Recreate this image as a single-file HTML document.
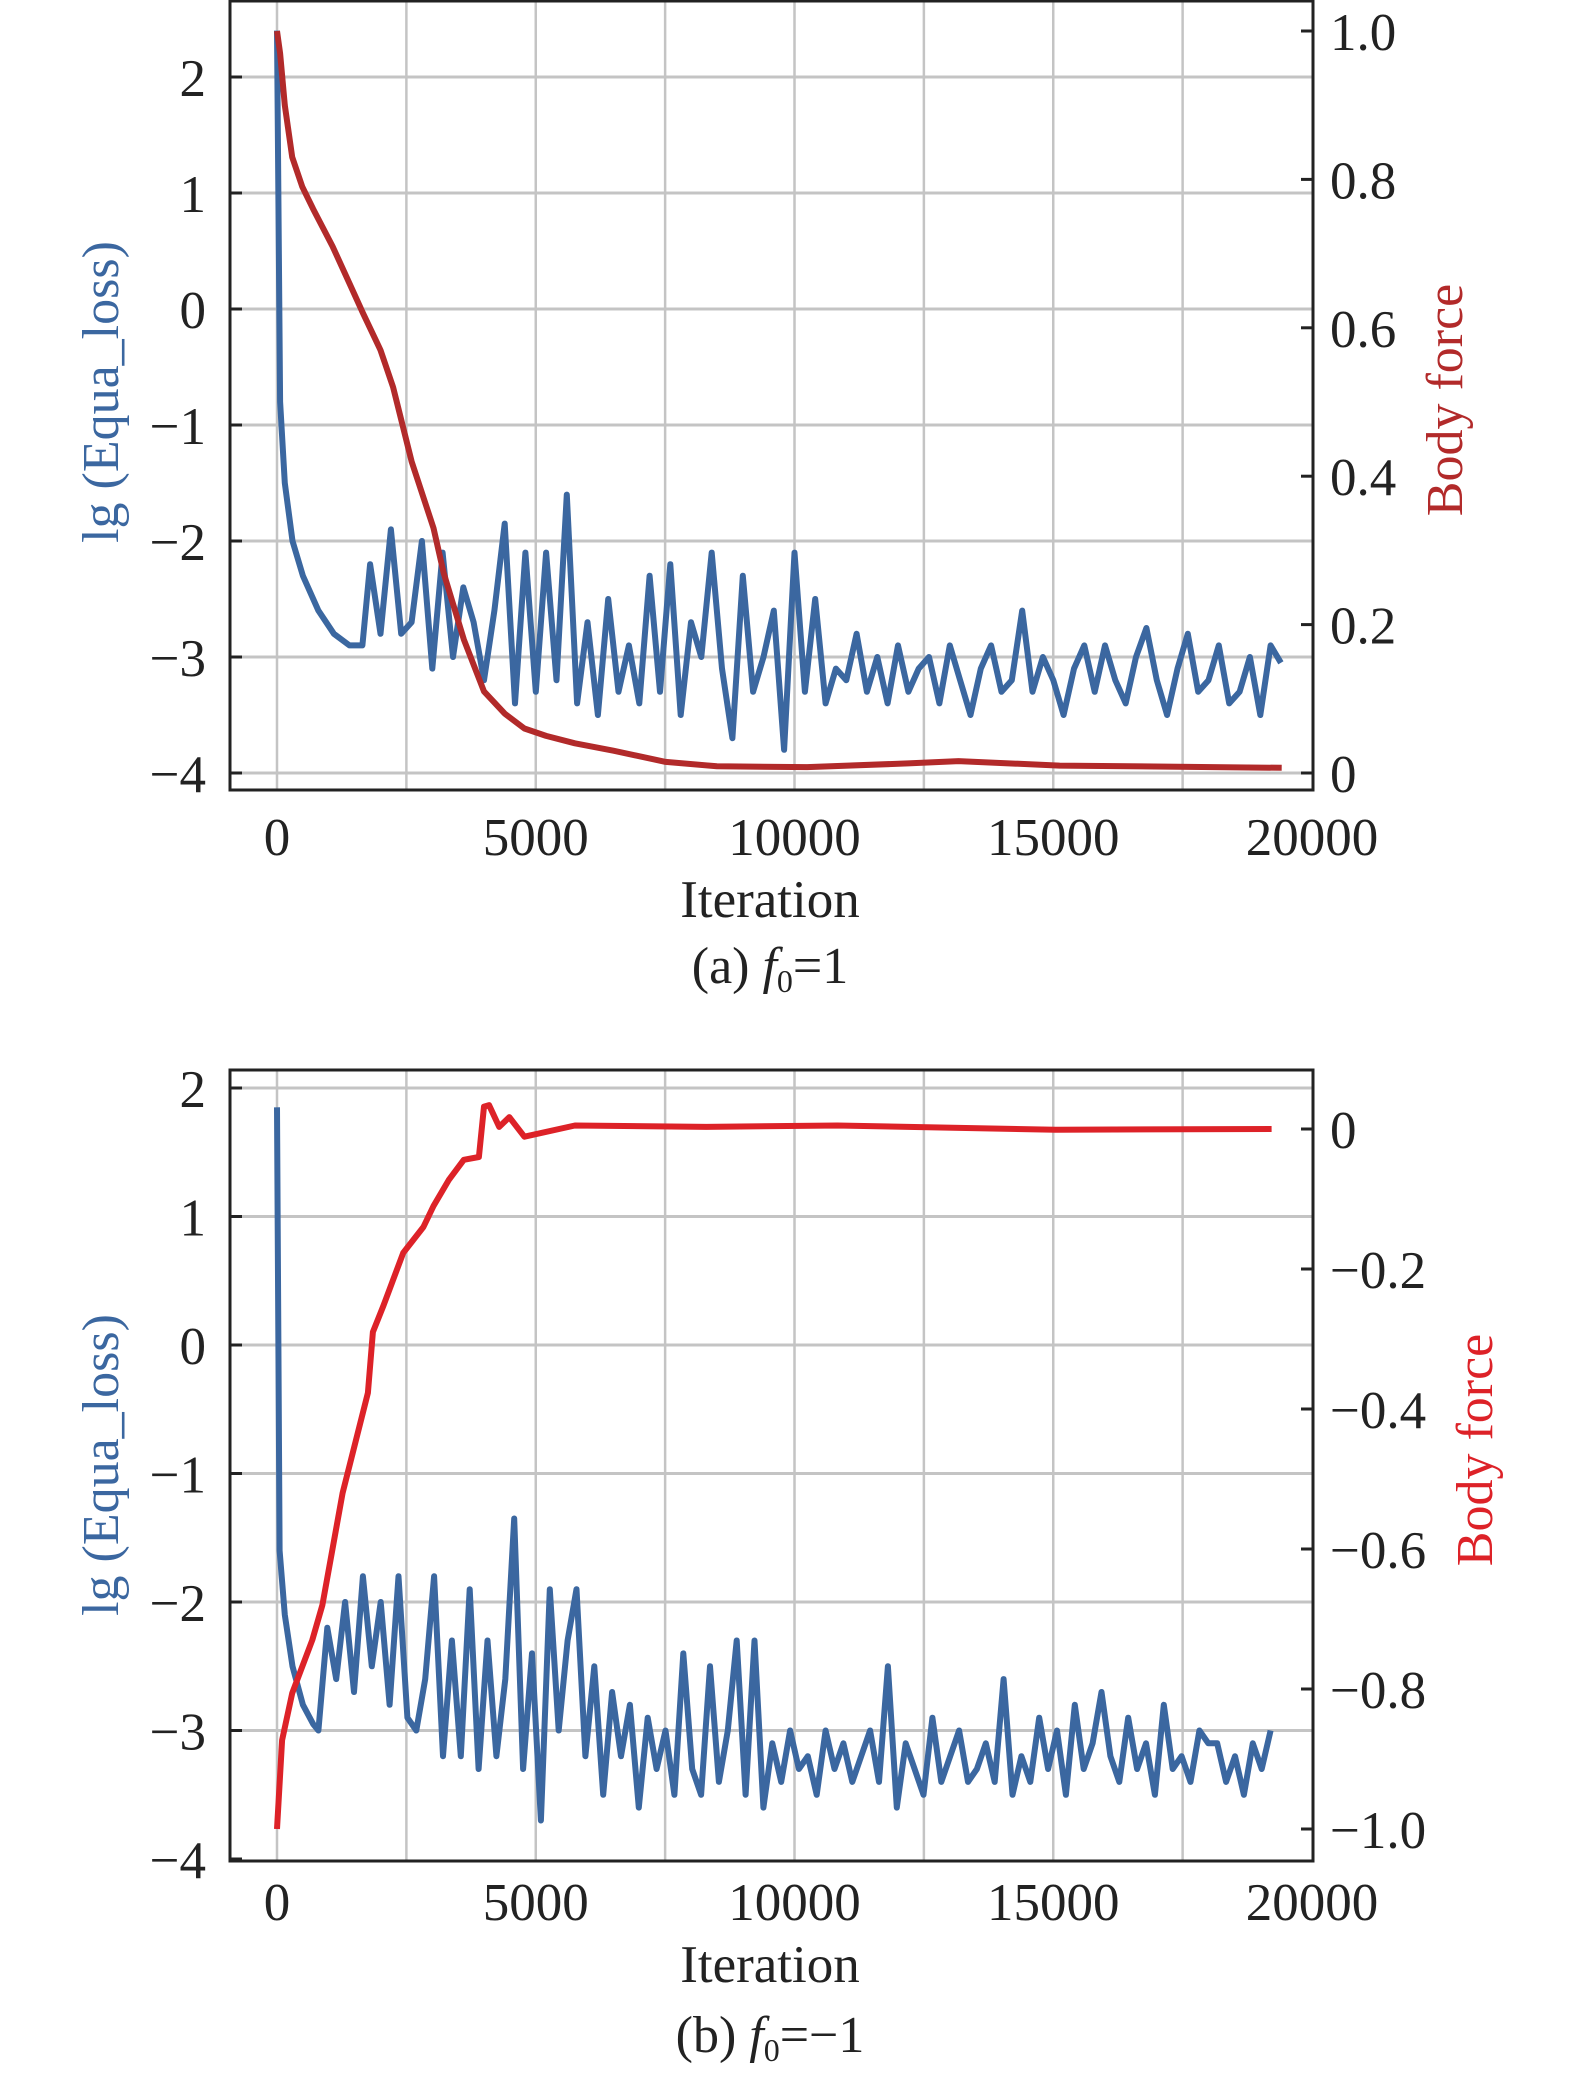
<!DOCTYPE html>
<html><head><meta charset="utf-8"><style>
html,body{margin:0;padding:0;background:#fff;}
svg{display:block;font-family:"Liberation Serif",serif;}
</style></head><body>
<svg id="chart" width="1575" height="2079" viewBox="0 0 1575 2079" xmlns="http://www.w3.org/2000/svg"></svg>
<script>
// ---- data ----
const xTicks = [0, 5000, 10000, 15000, 20000];
const xGrid = [0, 2500, 5000, 7500, 10000, 12500, 15000, 17500];
const leftTicksA = [2, 1, 0, -1, -2, -3, -4];
const rightTicksA = [1.0, 0.8, 0.6, 0.4, 0.2, 0];
const rightLabelsA = ["1.0", "0.8", "0.6", "0.4", "0.2", "0"];
const leftTicksB = [2, 1, 0, -1, -2, -3, -4];
const rightTicksB = [0, -0.2, -0.4, -0.6, -0.8, -1.0];
const rightLabelsB = ["0", "\u22120.2", "\u22120.4", "\u22120.6", "\u22120.8", "\u22121.0"];

const blueAHeadIter = [0, 60, 150, 300, 500, 800, 1100, 1400, 1650];
const blueAHeadVal = [2.4, -0.8, -1.5, -2.0, -2.3, -2.6, -2.8, -2.9, -2.9];
const blueANoiseStart = 1800, blueANoiseEnd = 19400;
const blueANoise = [-2.2,-2.8,-1.9,-2.8,-2.7,-2.0,-3.1,-2.1,-3.0,-2.4,-2.7,-3.2,-2.6,-1.85,-3.4,-2.1,-3.3,-2.1,-3.2,-1.6,-3.4,-2.7,-3.5,-2.5,-3.3,-2.9,-3.4,-2.3,-3.3,-2.2,-3.5,-2.7,-3.0,-2.1,-3.1,-3.7,-2.3,-3.3,-3.0,-2.6,-3.8,-2.1,-3.3,-2.5,-3.4,-3.1,-3.2,-2.8,-3.3,-3.0,-3.4,-2.9,-3.3,-3.1,-3.0,-3.4,-2.9,-3.2,-3.5,-3.1,-2.9,-3.3,-3.2,-2.6,-3.3,-3.0,-3.2,-3.5,-3.1,-2.9,-3.3,-2.9,-3.2,-3.4,-3.0,-2.75,-3.2,-3.5,-3.1,-2.8,-3.3,-3.2,-2.9,-3.4,-3.3,-3.0,-3.5,-2.9,-3.05];

const redAIter = [0,60,150,293,488,700,1073,1400,1659,2000,2244,2600,3024,3220,3610,4000,4400,4780,5200,5756,6500,7512,8500,10244,12195,13170,15122,19415];
const redAVal = [1.0,0.97,0.9,0.83,0.79,0.76,0.71,0.66,0.62,0.57,0.52,0.42,0.33,0.27,0.18,0.11,0.08,0.06,0.05,0.04,0.03,0.015,0.009,0.008,0.013,0.016,0.01,0.007];

const blueBHeadIter = [0, 50, 150, 300, 500, 700];
const blueBHeadVal = [1.85, -1.6, -2.1, -2.5, -2.8, -2.95];
const blueBNoiseStart = 800, blueBNoiseEnd = 19200;
const blueBNoise = [-3.0,-2.2,-2.6,-2.0,-2.7,-1.8,-2.5,-2.0,-2.8,-1.8,-2.9,-3.0,-2.6,-1.8,-3.2,-2.3,-3.2,-1.9,-3.3,-2.3,-3.2,-2.6,-1.35,-3.3,-2.4,-3.7,-1.9,-3.0,-2.3,-1.9,-3.2,-2.5,-3.5,-2.7,-3.2,-2.8,-3.6,-2.9,-3.3,-3.0,-3.5,-2.4,-3.3,-3.5,-2.5,-3.4,-3.0,-2.3,-3.5,-2.3,-3.6,-3.1,-3.4,-3.0,-3.3,-3.2,-3.5,-3.0,-3.3,-3.1,-3.4,-3.2,-3.0,-3.4,-2.5,-3.6,-3.1,-3.3,-3.5,-2.9,-3.4,-3.2,-3.0,-3.4,-3.3,-3.1,-3.4,-2.6,-3.5,-3.2,-3.4,-2.9,-3.3,-3.0,-3.5,-2.8,-3.3,-3.1,-2.7,-3.2,-3.4,-2.9,-3.3,-3.1,-3.5,-2.8,-3.3,-3.2,-3.4,-3.0,-3.1,-3.1,-3.4,-3.2,-3.5,-3.1,-3.3,-3.0];

const redBIter = [0,98,293,683,878,1268,1756,1854,2049,2439,2829,3024,3317,3610,3902,4000,4098,4293,4488,4780,5756,8293,10829,15044,19220];
const redBVal = [-1.0,-0.873,-0.806,-0.73,-0.68,-0.52,-0.377,-0.29,-0.254,-0.177,-0.14,-0.11,-0.073,-0.044,-0.04,0.032,0.034,0.003,0.017,-0.011,0.005,0.003,0.005,-0.001,0.0];

// ---- drawing ----
const NS = "http://www.w3.org/2000/svg";
const svg = document.getElementById('chart');
function mk(tag, attrs, parent, text) {
  const e = document.createElementNS(NS, tag);
  for (const k in attrs) e.setAttribute(k, attrs[k]);
  if (text !== undefined) e.textContent = text;
  (parent || svg).appendChild(e);
  return e;
}
const X = v => 277 + v / 20000 * 1035;
const BLUE = "#3b67a0", RED_A = "#b22a2a", RED_B = "#dd2228";
function noiseSeries(headI, headV, start, end, noise) {
  const it = headI.slice(), vals = headV.slice();
  const step = (end - start) / (noise.length - 1);
  noise.forEach((v, i) => { it.push(start + i * step); vals.push(v); });
  return [it, vals];
}

function panel(cfg) {
  const g = mk('g', {});
  
  
  const L = 230, R = 1313, T = cfg.top, B = cfg.bottom;
  xGrid.forEach(v => {
    const l = mk('line', {x1: X(v), x2: X(v), y1: T, y2: B, stroke: '#c4c4c4', 'stroke-width': 2.5}, g);
    
    
  });
  cfg.leftTicks.forEach(v => {
    const y = cfg.yL(v);
    if (y > T + 2 && y < B - 2) {
      const l = mk('line', {x1: L, x2: R, y1: y, y2: y, stroke: '#c4c4c4', 'stroke-width': 3}, g);
      
      
    }
  });
  function line(its, vals, yf, color, w, name) {
    const d = its.map((x, i) => (i ? 'L' : 'M') + X(x).toFixed(1) + ',' + yf(vals[i]).toFixed(1)).join('');
    const p = mk('path', {d, fill: 'none', stroke: color, 'stroke-width': w, 'stroke-linejoin': 'round'}, g);
    
    
  }
  line(cfg.blueI, cfg.blueV, cfg.yL, BLUE, 6, 'equa-loss-line');
  line(cfg.redI, cfg.redV, cfg.yR, cfg.red, 6, 'body-force-line');
  const fr = mk('rect', {x: L, y: T, width: R - L, height: B - T, fill: 'none', stroke: '#222', 'stroke-width': 3}, g);
  
  
  cfg.leftTicks.forEach(v => {
    const y = cfg.yL(v);
    mk('line', {x1: L, x2: L + 12, y1: y, y2: y, stroke: '#222', 'stroke-width': 3}, g);
    const t = mk('text', {x: 206, y: y + 19, 'text-anchor': 'end', 'font-size': 53, fill: '#222'}, g, v < 0 ? '\u2212' + (-v) : String(v));
    
    
  });
  cfg.rightTicks.forEach((v, i) => {
    const y = cfg.yR(v);
    mk('line', {x1: R - 12, x2: R, y1: y, y2: y, stroke: '#222', 'stroke-width': 3}, g);
    const t = mk('text', {x: 1330, y: y + 19, 'font-size': 53, fill: '#222'}, g, cfg.rightLabels[i]);
    
    
  });
  xTicks.forEach(v => {
    const t = mk('text', {x: X(v), y: cfg.xLabY, 'text-anchor': 'middle', 'font-size': 53, fill: '#222'}, g, String(v));
    
    
  });
  const xt = mk('text', {x: 770, y: cfg.xTitleY, 'text-anchor': 'middle', 'font-size': 53, fill: '#222'}, g, 'Iteration');
  
  
  const yl = mk('text', {x: 0, y: 0, 'text-anchor': 'middle', 'font-size': 52, fill: BLUE, transform: `translate(118,${cfg.yLabC}) rotate(-90)`}, g, 'lg (Equa_loss)');
  
  
  const yr = mk('text', {x: 0, y: 0, 'text-anchor': 'middle', 'font-size': 52, fill: cfg.red, transform: `translate(${cfg.yRX},${cfg.yRC}) rotate(-90)`}, g, 'Body force');
  
  
  const cap = mk('text', {x: 770, y: cfg.capY, 'text-anchor': 'middle', 'font-size': 52, fill: '#222'}, g);
  
  
  mk('tspan', {}, cap, cfg.capPre + ' ');
  mk('tspan', {'font-style': 'italic'}, cap, 'f');
  mk('tspan', {'font-size': 32, dy: 9}, cap, '0');
  mk('tspan', {dy: -9}, cap, cfg.capPost);
}

const [aI, aV] = noiseSeries(blueAHeadIter, blueAHeadVal, blueANoiseStart, blueANoiseEnd, blueANoise);
panel({name: 'panel-a', top: 1, bottom: 790,
  yL: v => 77 + (2 - v) * 116, yR: v => 773 - v * 742,
  leftTicks: leftTicksA, rightTicks: rightTicksA, rightLabels: rightLabelsA,
  blueI: aI, blueV: aV, redI: redAIter, redV: redAVal, red: RED_A,
  xLabY: 855, xTitleY: 917, yLabC: 392, yRX: 1462, yRC: 400, capY: 983,
  capPre: '(a)', capPost: '=1'});
const [bI, bV] = noiseSeries(blueBHeadIter, blueBHeadVal, blueBNoiseStart, blueBNoiseEnd, blueBNoise);
panel({name: 'panel-b', top: 1070, bottom: 1861,
  yL: v => 1088 + (2 - v) * 128.5, yR: v => 1129 - v * 700,
  leftTicks: leftTicksB, rightTicks: rightTicksB, rightLabels: rightLabelsB,
  blueI: bI, blueV: bV, redI: redBIter, redV: redBVal, red: RED_B,
  xLabY: 1920, xTitleY: 1982, yLabC: 1465, yRX: 1492, yRC: 1450, capY: 2052,
  capPre: '(b)', capPost: '=\u22121'});
</script>
</body></html>
